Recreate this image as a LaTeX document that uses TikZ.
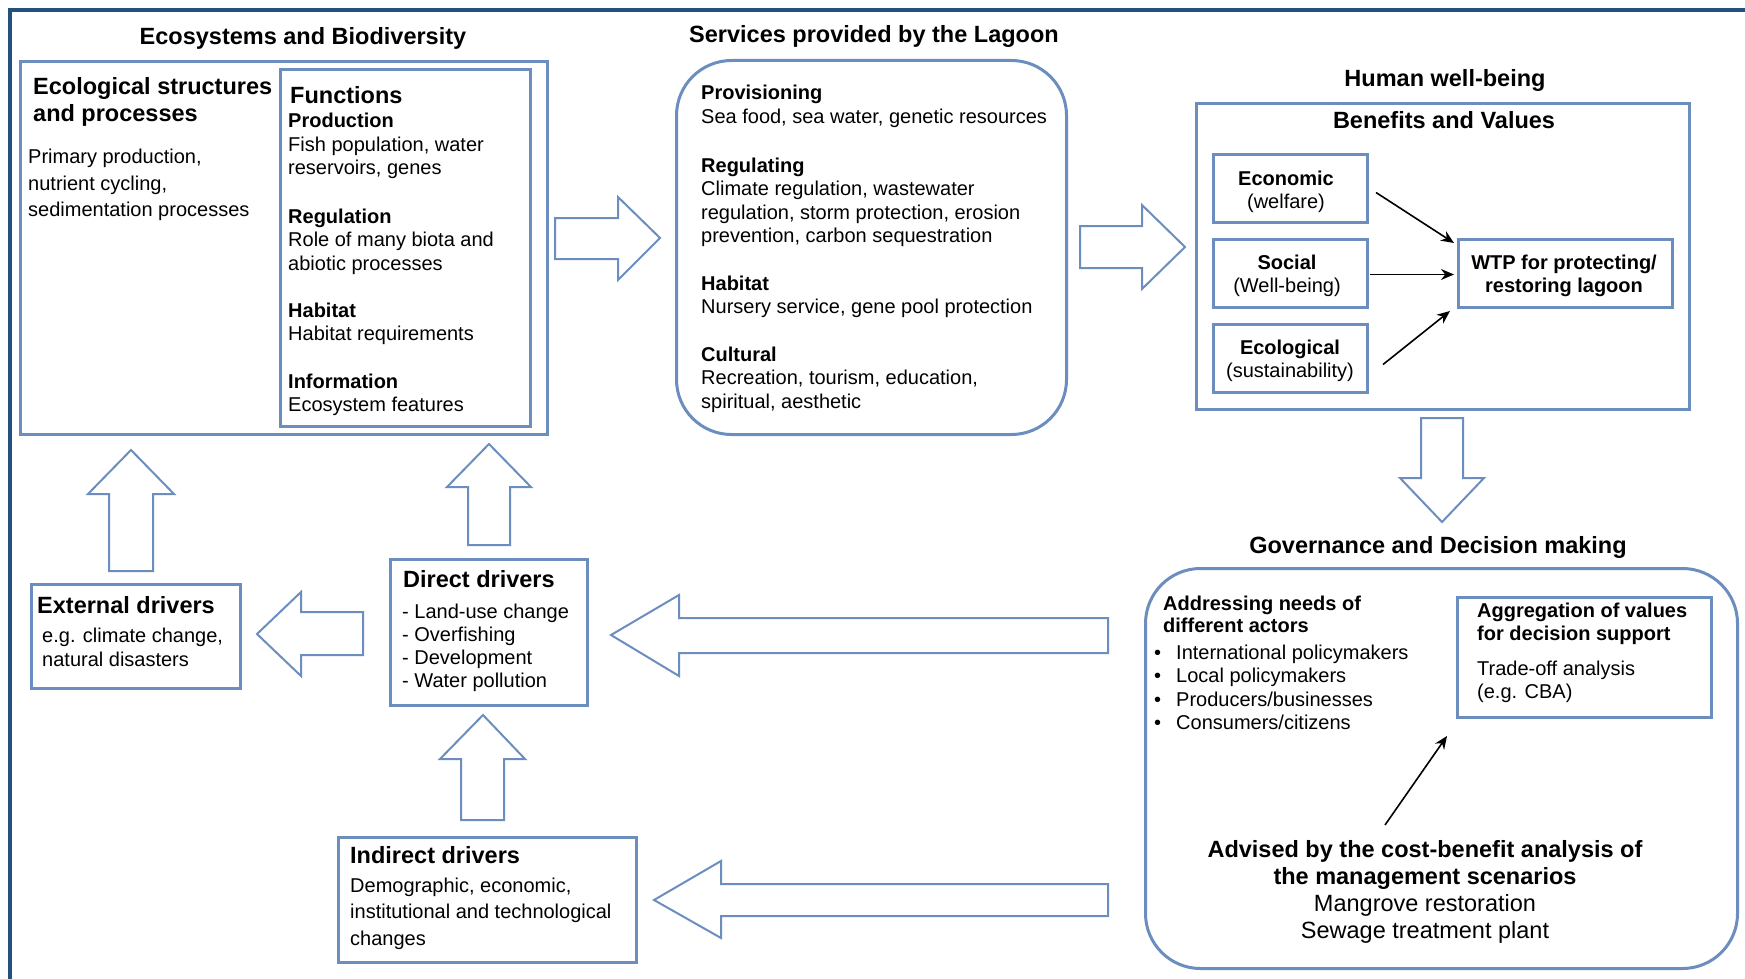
\documentclass[tikz,border=0pt]{standalone}
\usepackage{fontspec}
\setmainfont{Liberation Sans}
\usetikzlibrary{arrows.meta,calc}
\definecolor{boxblue}{RGB}{108,142,191}
\definecolor{framec}{RGB}{35,80,125}
\newcommand\bodyf{\fontsize{20}{23.5}\selectfont}
\newcommand\bigf{\fontsize{23.5}{27}\selectfont}
\newcommand\txtL[1]{\begin{tabular}[t]{@{}l@{}}#1\end{tabular}}
\newcommand\txtC[1]{\begin{tabular}[t]{@{}c@{}}#1\end{tabular}}
\tikzset{
  box/.style={draw=boxblue, line width=3pt, inner sep=0pt, anchor=north west, rectangle},
  rbox/.style={box, rounded corners=55pt},
  barrow/.style={draw=boxblue, line width=2pt, fill=white, line join=miter},
  txt/.style={inner sep=0pt, anchor=base west, font=\bodyf},
  ttl/.style={inner sep=0pt, anchor=base, font=\bigf\bfseries},
  conn/.style={-{Stealth[length=13pt,width=11pt]}, line width=1.6pt, black}
}
\begin{document}
\begin{tikzpicture}[x=1pt,y=-1pt]
\useasboundingbox (0,0) rectangle (1745,979);
\fill[white] (0,0) rectangle (1745,979);
% outer frame (top and left edges visible)
\draw[framec, line width=4pt] (10,981) -- (10,10) -- (1747,10);

% ---------- boxes ----------
\node[box, minimum width=527pt, minimum height=373pt] (eco) at (19,60) {};
\node[box, minimum width=250pt, minimum height=357pt] (func) at (279,68) {};
\node[rbox, minimum width=390pt, minimum height=374pt] (srv) at (675,59) {};
\node[box, minimum width=493pt, minimum height=306pt] (ben) at (1195,102) {};
\node[box, minimum width=154pt, minimum height=68pt] (econ) at (1212,153) {};
\node[box, minimum width=154pt, minimum height=68pt] (social) at (1212,238) {};
\node[box, minimum width=154pt, minimum height=68pt] (ecol) at (1212,323) {};
\node[box, minimum width=214pt, minimum height=68pt] (wtp) at (1457,238) {};
\node[rbox, minimum width=592pt, minimum height=400pt] (gov) at (1144,567) {};
\node[box, minimum width=254pt, minimum height=120pt] (aggr) at (1456,596) {};
\node[box, minimum width=197pt, minimum height=146pt] (direct) at (389,558) {};
\node[box, minimum width=209pt, minimum height=104pt] (external) at (30,583) {};
\node[box, minimum width=298pt, minimum height=125pt] (indirect) at (337,836) {};

% ---------- block arrows ----------
% Ecosystems -> Services
\draw[barrow] (555,218) -- (618,218) -- (618,197) -- (660,238) -- (618,280) -- (618,259) -- (555,259) -- cycle;
% Services -> Human well-being
\draw[barrow] (1080,226) -- (1142,226) -- (1142,205) -- (1185,247) -- (1142,289) -- (1142,268) -- (1080,268) -- cycle;
% Benefits -> Governance (down)
\draw[barrow] (1421,418) -- (1463,418) -- (1463,478) -- (1484,478) -- (1442,522) -- (1400,478) -- (1421,478) -- cycle;
% Governance -> Direct drivers (left)
\draw[barrow] (1108,618) -- (679,618) -- (679,595) -- (611,635) -- (679,676) -- (679,653) -- (1108,653) -- cycle;
% Governance -> Indirect drivers (left)
\draw[barrow] (1108,884) -- (721,884) -- (721,861) -- (654,900) -- (721,938) -- (721,916) -- (1108,916) -- cycle;
% Direct -> External (left)
\draw[barrow] (363,612) -- (301,612) -- (301,592) -- (257,634) -- (301,676) -- (301,655) -- (363,655) -- cycle;
% External -> Ecosystems (up)
\draw[barrow] (109,571) -- (109,494) -- (88,494) -- (131,450) -- (174,494) -- (153,494) -- (153,571) -- cycle;
% Direct -> Functions (up)
\draw[barrow] (468,545) -- (468,487) -- (447,487) -- (489,444) -- (531,487) -- (510,487) -- (510,545) -- cycle;
% Indirect -> Direct (up)
\draw[barrow] (461,820) -- (461,759) -- (440,759) -- (483,715) -- (525,759) -- (504,759) -- (504,820) -- cycle;

% ---------- texts: Ecosystems ----------
\node[ttl] (t-eco) at (303,45) {Ecosystems and Biodiversity};
\node[txt, font=\bigf\bfseries] (esp) at (33,95) {\txtL{Ecological structures\\and processes}};
\node[txt, font=\fontsize{20}{26.5}\selectfont] (ppr) at (28,164) {\txtL{Primary production,\\nutrient cycling,\\sedimentation processes}};
\node[txt, font=\bigf\bfseries] (fun) at (290,104) {Functions};
\node[txt] (f1) at (288,128) {\txtL{\textbf{Production}\\Fish population, water\\reservoirs, genes}};
\node[txt] (f2) at (288,223) {\txtL{\textbf{Regulation}\\Role of many biota and\\abiotic processes}};
\node[txt] (f3) at (288,317) {\txtL{\textbf{Habitat}\\Habitat requirements}};
\node[txt] (f4) at (288,388) {\txtL{\textbf{Information}\\Ecosystem features}};

% ---------- texts: Services ----------
\node[ttl] (t-srv) at (874,43) {Services provided by the Lagoon};
\node[txt] (s1) at (701,100) {\txtL{\textbf{Provisioning}\\Sea food, sea water, genetic resources}};
\node[txt] (s2) at (701,172) {\txtL{\textbf{Regulating}\\Climate regulation, wastewater\\regulation, storm protection, erosion\\prevention, carbon sequestration}};
\node[txt] (s3) at (701,290) {\txtL{\textbf{Habitat}\\Nursery service, gene pool protection}};
\node[txt] (s4) at (701,361) {\txtL{\textbf{Cultural}\\Recreation, tourism, education,\\spiritual, aesthetic}};

% ---------- texts: Human well-being ----------
\node[ttl] (t-hwb) at (1445,87) {Human well-being};
\node[ttl] (t-bv) at (1444,129) {Benefits and Values};
\node[txt, anchor=base] (econ-t) at (1286,185) {\txtC{\textbf{Economic}\\(welfare)}};
\node[txt, anchor=base] (social-t) at (1287,269) {\txtC{\textbf{Social}\\(Well-being)}};
\node[txt, anchor=base] (ecol-t) at (1290,354) {\txtC{\textbf{Ecological}\\(sustainability)}};
\node[txt, anchor=base, font=\bodyf\bfseries] (wtp-t) at (1564,269) {\txtC{WTP for protecting/\\restoring lagoon}};

% ---------- texts: drivers ----------
\node[txt, font=\bigf\bfseries] (dir-t) at (403,587) {Direct drivers};
\node[txt, font=\fontsize{20}{23}\selectfont] (dir-l) at (402,618) {\txtL{- Land-use change\\- Overfishing\\- Development\\- Water pollution}};
\node[txt, font=\bigf\bfseries] (ext-t) at (37,613) {External drivers};
\node[txt, font=\fontsize{20}{24}\selectfont] (ext-l) at (42,642) {\txtL{e.g. climate change,\\natural disasters}};
\node[txt, font=\bigf\bfseries] (ind-t) at (350,863) {Indirect drivers};
\node[txt, font=\fontsize{20}{26.5}\selectfont] (ind-l) at (350,892) {\txtL{Demographic, economic,\\institutional and technological\\changes}};

% ---------- texts: Governance ----------
\node[ttl] (t-gov) at (1438,553) {Governance and Decision making};
\node[txt, font=\fontsize{20}{22.5}\selectfont\bfseries] (addr) at (1163,610) {\txtL{Addressing needs of\\different actors}};
\node[txt] (actors) at (1154,659) {\begin{tabular}[t]{@{}l@{\hspace{15pt}}l@{}}\textbullet & International policymakers\\ \textbullet & Local policymakers\\ \textbullet & Producers/businesses\\ \textbullet & Consumers/citizens\end{tabular}};
\node[txt, font=\fontsize{20}{23}\selectfont\bfseries] (aggr-t) at (1477,617) {\txtL{Aggregation of values\\for decision support}};
\node[txt] (aggr-l) at (1477,675) {\txtL{Trade-off analysis\\(e.g. CBA)}};
\node[txt, anchor=base, font=\fontsize{23.5}{27}\selectfont] (adv) at (1425,857) {\txtC{\textbf{Advised by the cost-benefit analysis of}\\\textbf{the management scenarios}\\Mangrove restoration\\Sewage treatment plant}};
\coordinate (advtop) at (1385,825);

% ---------- connectors ----------
\draw[conn] ([shift={(7,4)}]econ.east) -- ([shift={(-3,5)}]wtp.north west);
\draw[conn] ([shift={(1,1)}]social.east) -- ([shift={(-3,1)}]wtp.west);
\draw[conn] ([shift={(14,6)}]ecol.east) -- ([shift={(-7,2)}]wtp.south west);
\draw[conn] (advtop) -- ([shift={(-9,17)}]aggr.south west);
\end{tikzpicture}
\end{document}
